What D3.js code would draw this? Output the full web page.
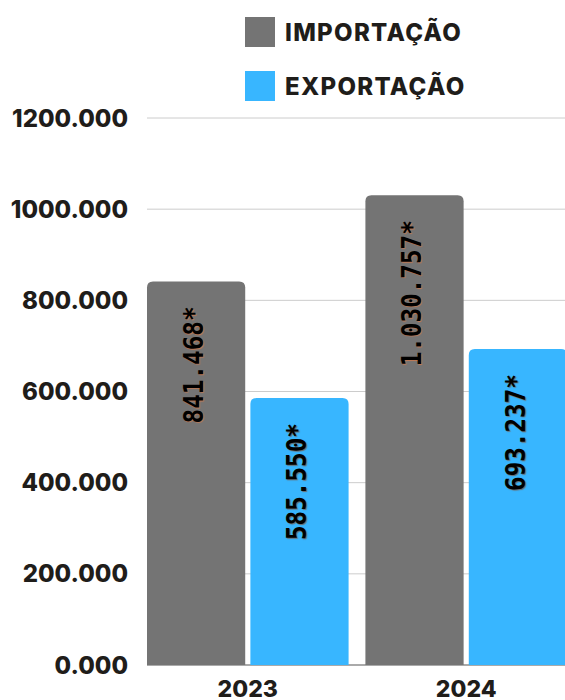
<!DOCTYPE html>
<html>
<head>
<meta charset="utf-8">
<script src="https://cdn.jsdelivr.net/npm/d3@7"></script>
<style>
  body { margin: 0; background: #fff; }
  text { font-family: Inter, 'Noto Sans', sans-serif; }
  text.value { font-family: 'DejaVu Sans Mono', 'Liberation Mono', monospace; }
</style>
</head>
<body>
<div id="chart"></div>
<script>
// data
const years = ['2023', '2024']
const series = ['IMPORTAÇÃO', 'EXPORTAÇÃO']
const importacao = [841.468, 1030.757]
const exportacao = [585.55, 693.237]
const valueLabels = [['841.468*', '585.550*'], ['1.030.757*', '693.237*']]
const yTicks = [0, 200, 400, 600, 800, 1000, 1200]
const yTickLabels = ['0.000', '200.000', '400.000', '600.000', '800.000', '1000.000', '1200.000']

const colors = ['#747474', '#38b6ff']
const shadows = ['-1px 1px 1px #c27a55', '-1px 1px 1px #6b6b6b']

const width = 565
const height = 700

const svg = d3.select('#chart')
  .append('svg')
  .attr('width', width)
  .attr('height', height)

const yScale = d3.scaleLinear()
  .domain([0, 1200])
  .range([665, 118])

const xScale = d3.scaleBand()
  .domain(years)
  .range([147, 567])
  .paddingInner(0.077)

const xInner = d3.scaleBand()
  .domain(series)
  .range([0, xScale.bandwidth()])
  .paddingInner(0.05)

// gridlines
svg.append('g')
  .selectAll('line')
  .data(yTicks)
  .enter()
  .append('line')
  .attr('x1', 147)
  .attr('x2', 565)
  .attr('y1', d => yScale(d))
  .attr('y2', d => yScale(d))
  .attr('stroke', d => d === 0 ? '#aaa' : '#cccccc')
  .attr('stroke-width', d => d === 0 ? 2 : 1)

// y axis labels
svg.append('g')
  .selectAll('text')
  .data(yTicks)
  .enter()
  .append('text')
  .attr('x', 128)
  .attr('y', d => yScale(d))
  .attr('dy', '0.36em')
  .attr('text-anchor', 'end')
  .attr('font-size', 24)
  .attr('font-weight', 800)
  .attr('fill', '#1f1d1a')
  .text((d, i) => yTickLabels[i])

// rounded-top bar path
function topRounded(x, y, w, h, r) {
  return 'M' + x + ',' + (y + h) +
    'V' + (y + r) +
    'Q' + x + ',' + y + ' ' + (x + r) + ',' + y +
    'H' + (x + w - r) +
    'Q' + (x + w) + ',' + y + ' ' + (x + w) + ',' + (y + r) +
    'V' + (y + h) + 'Z'
}

const rows = years.map((yr, i) => ({
  year: yr,
  values: [importacao[i], exportacao[i]],
  labels: valueLabels[i]
}))

const groups = svg.append('g')
  .selectAll('g')
  .data(rows)
  .enter()
  .append('g')
  .attr('transform', d => 'translate(' + xScale(d.year) + ',0)')

groups.each(function(d) {
  const g = d3.select(this)
  d.values.forEach((v, j) => {
    const x = xInner(series[j])
    const w = xInner.bandwidth()
    const y = yScale(v)
    g.append('path')
      .attr('d', topRounded(x, y, w, yScale(0) - y, 6))
      .attr('fill', colors[j])

    g.append('text')
      .attr('class', 'value')
      .attr('transform', 'translate(' + (x + w / 2 - 3) + ',' + (y + 25) + ') rotate(-90) scale(0.9,1)')
      .attr('dy', '0.36em')
      .attr('text-anchor', 'end')
      .attr('font-size', 27)
      .attr('font-weight', 'bold')
      .attr('fill', '#000')
      .style('text-shadow', shadows[j])
      .text(d.labels[j])
  })
})

// x axis labels
svg.append('g')
  .selectAll('text')
  .data(years)
  .enter()
  .append('text')
  .attr('x', d => xScale(d) + xScale.bandwidth() / 2)
  .attr('y', 689)
  .attr('dy', '0.36em')
  .attr('text-anchor', 'middle')
  .attr('font-size', 23)
  .attr('font-weight', 800)
  .attr('fill', '#1f1d1a')
  .text(d => d)

// legend
const legend = svg.append('g')
  .selectAll('g')
  .data(series)
  .enter()
  .append('g')
  .attr('transform', (d, i) => 'translate(245,' + (17 + i * 54) + ')')

legend.append('rect')
  .attr('width', 30)
  .attr('height', 30)
  .attr('fill', (d, i) => colors[i])

legend.append('text')
  .attr('x', 40)
  .attr('y', 15)
  .attr('dy', '0.36em')
  .attr('font-size', 24)
  .attr('font-weight', 800)
  .attr('letter-spacing', 1.3)
  .attr('fill', '#1f1d1a')
  .text(d => d)
</script>
</body>
</html>
